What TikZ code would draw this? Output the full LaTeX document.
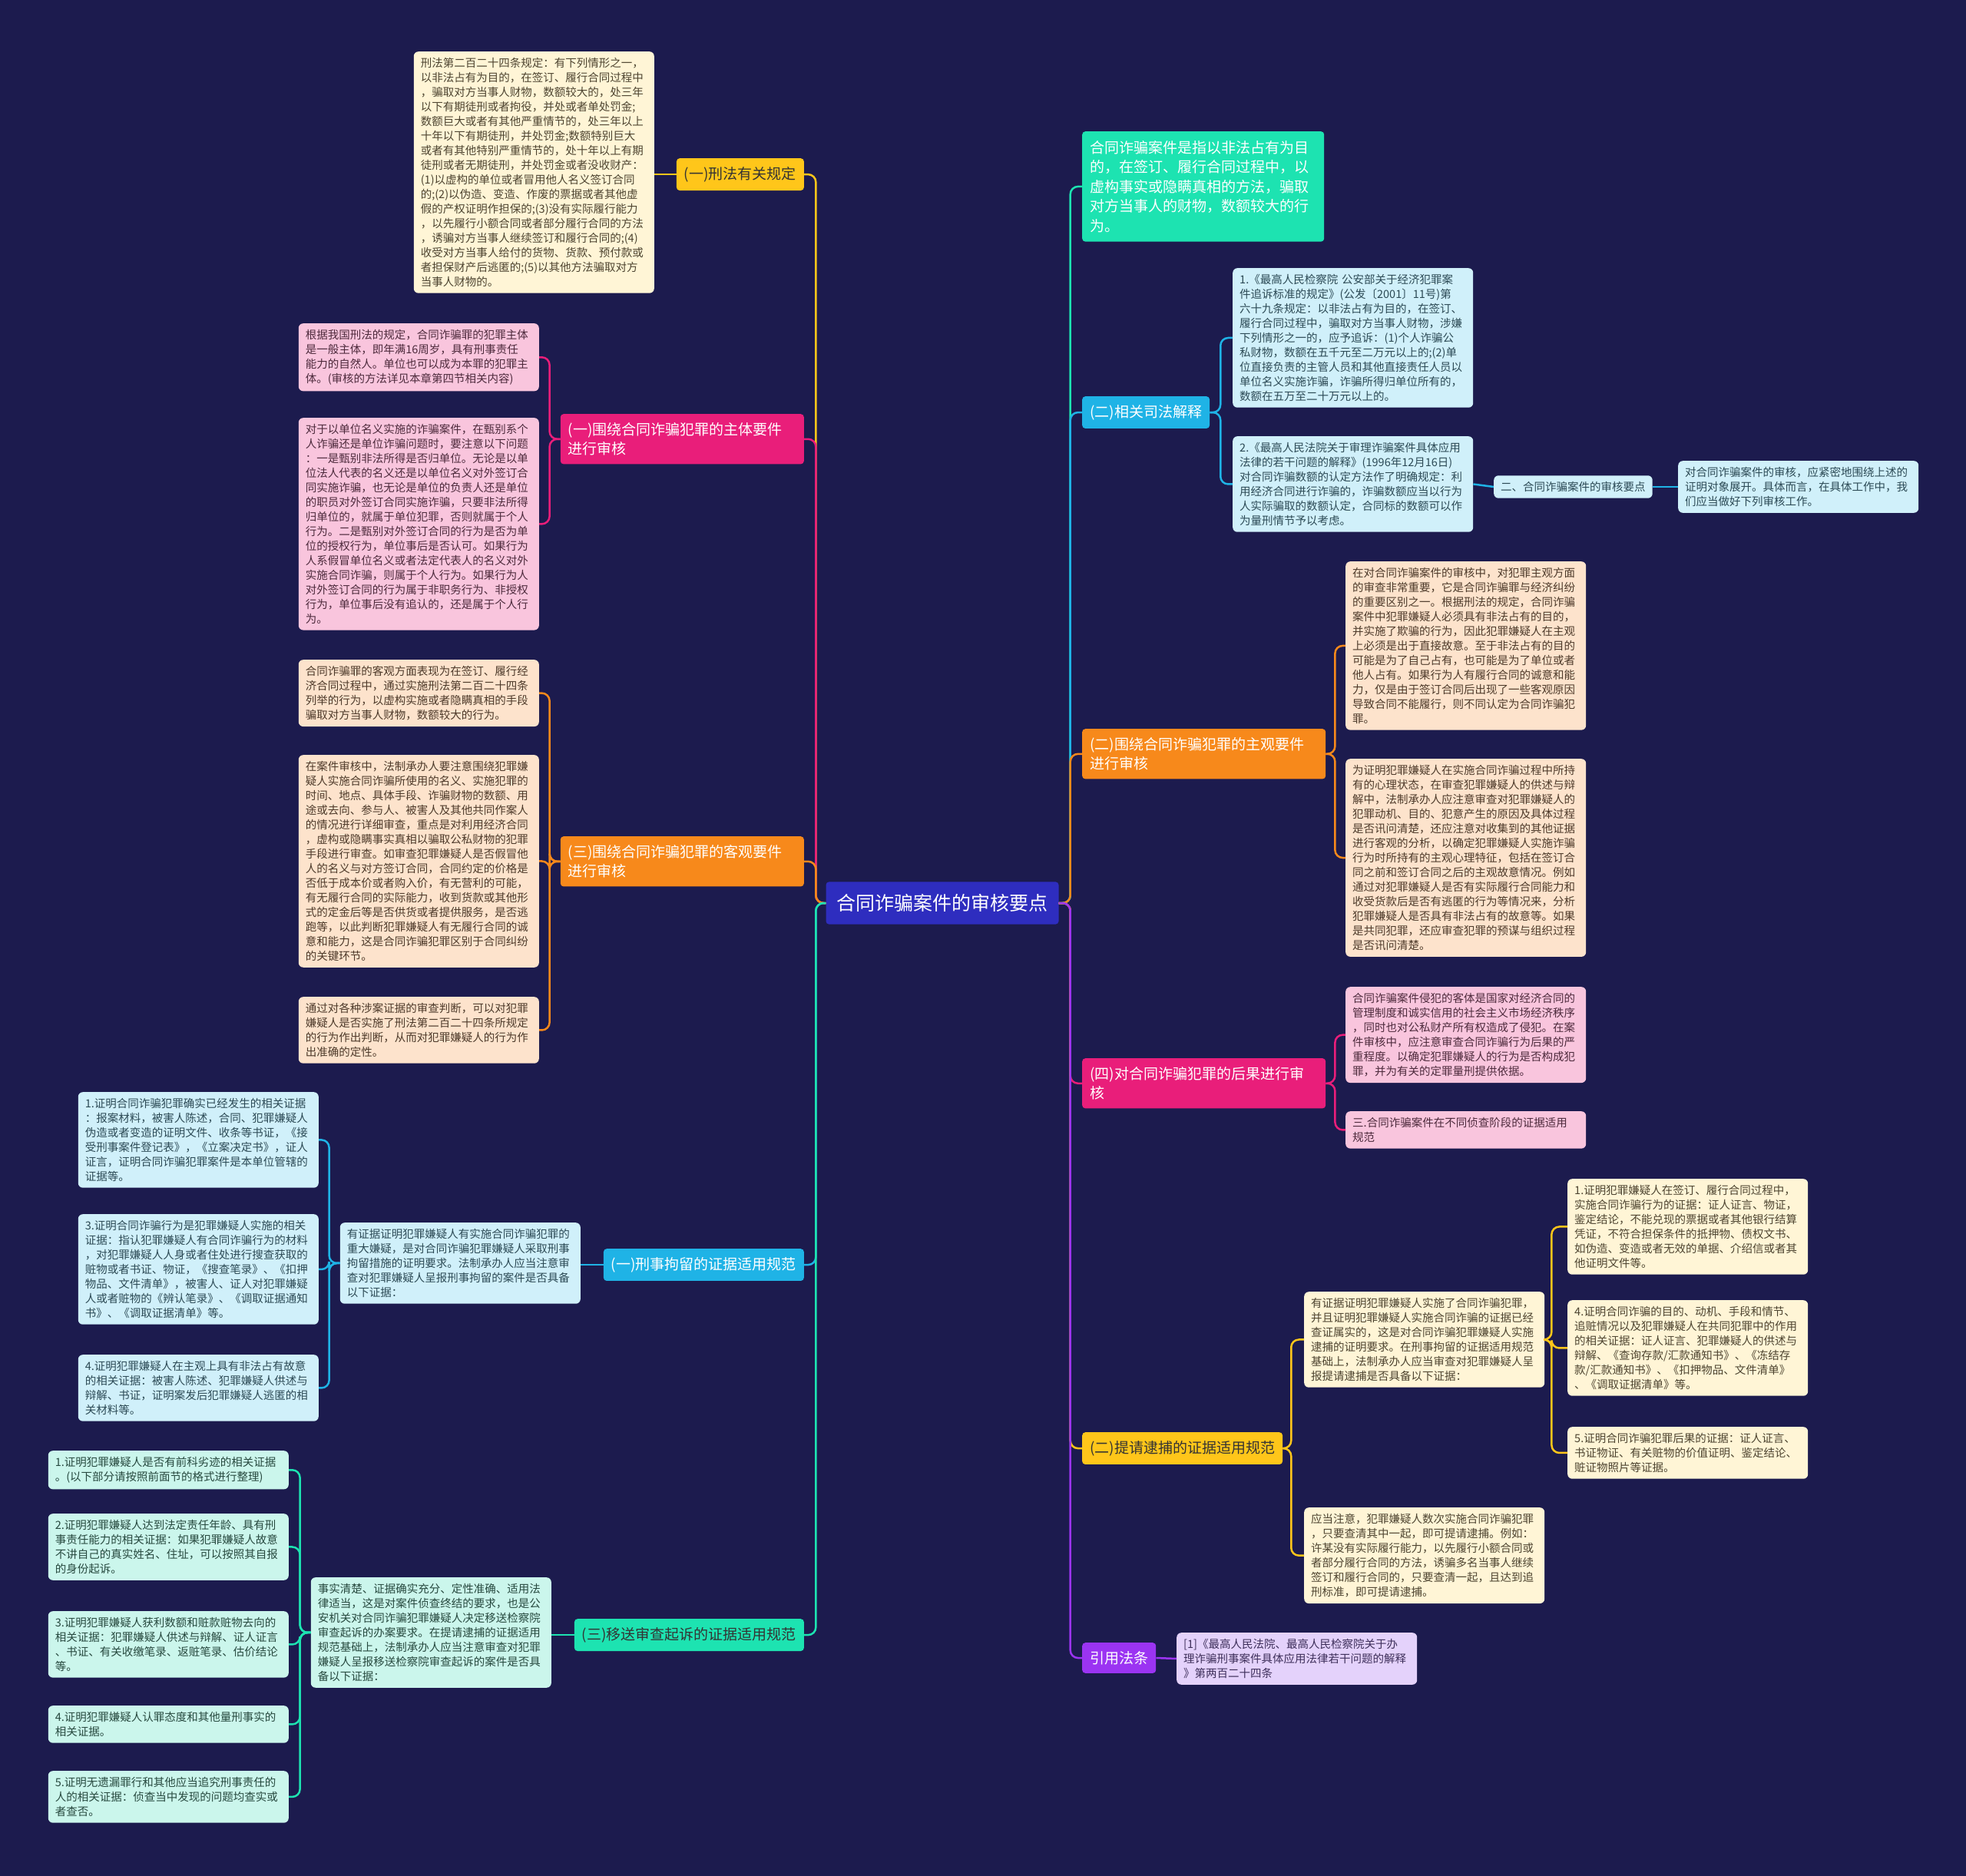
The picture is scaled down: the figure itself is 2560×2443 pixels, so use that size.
\documentclass[tikz,border=0pt]{standalone}
\usepackage{fontspec}
\setmainfont{Noto Sans CJK SC}

\definecolor{cBg}{HTML}{1C1B4E}
\definecolor{cRoot}{HTML}{2E2DBF}
\definecolor{cY}{HTML}{FFC61A}
\definecolor{cP}{HTML}{E91E7A}
\definecolor{cO}{HTML}{F7891B}
\definecolor{cB}{HTML}{1FB3E6}
\definecolor{cG}{HTML}{1DE3B1}
\definecolor{cV}{HTML}{9B34F2}
\definecolor{lY}{HTML}{FFF5D6}
\definecolor{lP}{HTML}{F9C5DD}
\definecolor{lO}{HTML}{FDE3CC}
\definecolor{lB}{HTML}{D0F0FA}
\definecolor{lG}{HTML}{CBF6EC}
\definecolor{lV}{HTML}{E4D2FB}
\definecolor{tY}{HTML}{4D4430}
\definecolor{tP}{HTML}{4D2A3C}
\definecolor{tO}{HTML}{4D3A2A}
\definecolor{tB}{HTML}{2C4A55}
\definecolor{tG}{HTML}{27493F}
\definecolor{tV}{HTML}{3E2F5A}

\tikzset{
  leaf/.style={rounded corners=6pt, align=left, text width=295pt, inner xsep=9pt,
    inner ysep=8pt, font=\fontsize{14.5}{19}\selectfont},
  leafY/.style={leaf, fill=lY, text=tY},
  leafP/.style={leaf, fill=lP, text=tP},
  leafO/.style={leaf, fill=lO, text=tO},
  leafB/.style={leaf, fill=lB, text=tB},
  leafG/.style={leaf, fill=lG, text=tG},
  leafV/.style={leaf, fill=lV, text=tV},
  branch/.style={rounded corners=4pt, align=left, inner xsep=10pt, inner ysep=11pt,
    font=\fontsize{19}{25.5}\selectfont},
  link/.style={draw=#1, line width=2.5pt, rounded corners=10pt},
}

\begin{document}
\begin{tikzpicture}[x=1pt,y=-1pt]
\fill[cBg] (0,0) rectangle (2560,2443);
\useasboundingbox (0,0) rectangle (2560,2443);

% root
\node[fill=cRoot, text=white, rounded corners=4pt, inner xsep=14pt, inner ysep=16pt,
  font=\fontsize{25}{30}\selectfont] (root) at (1227,1176) {合同诈骗案件的审核要点};

% left branches
\node[branch, fill=cY, text=black!80, anchor=north east] (fa) at (1047,206) {(一)刑法有关规定};
\node[branch, fill=cP, text=white, text width=297pt, anchor=north east] (zt) at (1047,539)
  {(一)围绕合同诈骗犯罪的主体要件\\进行审核};
\node[branch, fill=cO, text=white, text width=297pt, anchor=north east] (kg) at (1047,1089)
  {(三)围绕合同诈骗犯罪的客观要件\\进行审核};
\node[branch, fill=cB, text=white, anchor=north east] (jl) at (1047,1626) {(一)刑事拘留的证据适用规范};
\node[branch, fill=cG, text=black!80, anchor=north east] (ys) at (1047,2108) {(三)移送审查起诉的证据适用规范};

% right branches
\node[branch, fill=cG, text=white, text width=295pt, inner ysep=12pt, anchor=north west] (dy) at (1409,171)
  {合同诈骗案件是指以非法占有为目\\的，在签订、履行合同过程中，以\\虚构事实或隐瞒真相的方法，骗取\\对方当事人的财物，数额较大的行\\为。};
\node[branch, fill=cB, text=white, anchor=north west] (sf) at (1409,516) {(二)相关司法解释};
\node[branch, fill=cO, text=white, text width=297pt, anchor=north west] (zg) at (1409,949)
  {(二)围绕合同诈骗犯罪的主观要件\\进行审核};
\node[branch, fill=cP, text=white, text width=297pt, anchor=north west] (hg) at (1409,1378)
  {(四)对合同诈骗犯罪的后果进行审\\核};
\node[branch, fill=cY, text=black!80, anchor=north west] (db) at (1409,1865) {(二)提请逮捕的证据适用规范};
\node[branch, fill=cV, text=white, anchor=north west] (yy) at (1409,2139) {引用法条};

% left leaves
\node[leafY, anchor=north east] (legal) at (852,67)
  {刑法第二百二十四条规定：有下列情形之一，\\以非法占有为目的，在签订、履行合同过程中\\，骗取对方当事人财物，数额较大的，处三年\\以下有期徒刑或者拘役，并处或者单处罚金;\\数额巨大或者有其他严重情节的，处三年以上\\十年以下有期徒刑，并处罚金;数额特别巨大\\或者有其他特别严重情节的，处十年以上有期\\徒刑或者无期徒刑，并处罚金或者没收财产：\\(1)以虚构的单位或者冒用他人名义签订合同\\的;(2)以伪造、变造、作废的票据或者其他虚\\假的产权证明作担保的;(3)没有实际履行能力\\，以先履行小额合同或者部分履行合同的方法\\，诱骗对方当事人继续签订和履行合同的;(4)\\收受对方当事人给付的货物、货款、预付款或\\者担保财产后逃匿的;(5)以其他方法骗取对方\\当事人财物的。};
\node[leafP, anchor=north east] (pk1) at (702,421)
  {根据我国刑法的规定，合同诈骗罪的犯罪主体\\是一般主体，即年满16周岁，具有刑事责任\\能力的自然人。单位也可以成为本罪的犯罪主\\体。(审核的方法详见本章第四节相关内容)};
\node[leafP, anchor=north east] (pk2) at (702,544)
  {对于以单位名义实施的诈骗案件，在甄别系个\\人诈骗还是单位诈骗问题时，要注意以下问题\\：一是甄别非法所得是否归单位。无论是以单\\位法人代表的名义还是以单位名义对外签订合\\同实施诈骗，也无论是单位的负责人还是单位\\的职员对外签订合同实施诈骗，只要非法所得\\归单位的，就属于单位犯罪，否则就属于个人\\行为。二是甄别对外签订合同的行为是否为单\\位的授权行为，单位事后是否认可。如果行为\\人系假冒单位名义或者法定代表人的名义对外\\实施合同诈骗，则属于个人行为。如果行为人\\对外签订合同的行为属于非职务行为、非授权\\行为，单位事后没有追认的，还是属于个人行\\为。};
\node[leafO, anchor=north east] (or1) at (702,859)
  {合同诈骗罪的客观方面表现为在签订、履行经\\济合同过程中，通过实施刑法第二百二十四条\\列举的行为，以虚构实施或者隐瞒真相的手段\\骗取对方当事人财物，数额较大的行为。};
\node[leafO, anchor=north east] (or2) at (702,983)
  {在案件审核中，法制承办人要注意围绕犯罪嫌\\疑人实施合同诈骗所使用的名义、实施犯罪的\\时间、地点、具体手段、诈骗财物的数额、用\\途或去向、参与人、被害人及其他共同作案人\\的情况进行详细审查，重点是对利用经济合同\\，虚构或隐瞒事实真相以骗取公私财物的犯罪\\手段进行审查。如审查犯罪嫌疑人是否假冒他\\人的名义与对方签订合同，合同约定的价格是\\否低于成本价或者购入价，有无营利的可能，\\有无履行合同的实际能力，收到货款或其他形\\式的定金后等是否供货或者提供服务，是否逃\\跑等，以此判断犯罪嫌疑人有无履行合同的诚\\意和能力，这是合同诈骗犯罪区别于合同纠纷\\的关键环节。};
\node[leafO, anchor=north east] (or3) at (702,1298)
  {通过对各种涉案证据的审查判断，可以对犯罪\\嫌疑人是否实施了刑法第二百二十四条所规定\\的行为作出判断，从而对犯罪嫌疑人的行为作\\出准确的定性。};
\node[leafB, anchor=north east] (bl0) at (756,1592)
  {有证据证明犯罪嫌疑人有实施合同诈骗犯罪的\\重大嫌疑，是对合同诈骗犯罪嫌疑人采取刑事\\拘留措施的证明要求。法制承办人应当注意审\\查对犯罪嫌疑人呈报刑事拘留的案件是否具备\\以下证据：};
\node[leafB, anchor=north east] (bl1) at (415,1422)
  {1.证明合同诈骗犯罪确实已经发生的相关证据\\：报案材料，被害人陈述，合同、犯罪嫌疑人\\伪造或者变造的证明文件、收条等书证，《接\\受刑事案件登记表》，《立案决定书》，证人\\证言，证明合同诈骗犯罪案件是本单位管辖的\\证据等。};
\node[leafB, anchor=north east] (bl3) at (415,1581)
  {3.证明合同诈骗行为是犯罪嫌疑人实施的相关\\证据：指认犯罪嫌疑人有合同诈骗行为的材料\\，对犯罪嫌疑人人身或者住处进行搜查获取的\\赃物或者书证、物证，《搜查笔录》、《扣押\\物品、文件清单》，被害人、证人对犯罪嫌疑\\人或者赃物的《辨认笔录》、《调取证据通知\\书》、《调取证据清单》等。};
\node[leafB, anchor=north east] (bl4) at (415,1764)
  {4.证明犯罪嫌疑人在主观上具有非法占有故意\\的相关证据：被害人陈述、犯罪嫌疑人供述与\\辩解、书证，证明案发后犯罪嫌疑人逃匿的相\\关材料等。};
\node[leafG, anchor=north east] (gr0) at (718,2054)
  {事实清楚、证据确实充分、定性准确、适用法\\律适当，这是对案件侦查终结的要求，也是公\\安机关对合同诈骗犯罪嫌疑人决定移送检察院\\审查起诉的办案要求。在提请逮捕的证据适用\\规范基础上，法制承办人应当注意审查对犯罪\\嫌疑人呈报移送检察院审查起诉的案件是否具\\备以下证据：};
\node[leafG, anchor=north east] (gr1) at (376,1889)
  {1.证明犯罪嫌疑人是否有前科劣迹的相关证据\\。(以下部分请按照前面节的格式进行整理)};
\node[leafG, anchor=north east] (gr2) at (376,1971)
  {2.证明犯罪嫌疑人达到法定责任年龄、具有刑\\事责任能力的相关证据：如果犯罪嫌疑人故意\\不讲自己的真实姓名、住址，可以按照其自报\\的身份起诉。};
\node[leafG, anchor=north east] (gr3) at (376,2098)
  {3.证明犯罪嫌疑人获利数额和赃款赃物去向的\\相关证据：犯罪嫌疑人供述与辩解、证人证言\\、书证、有关收缴笔录、返赃笔录、估价结论\\等。};
\node[leafG, anchor=north east] (gr4) at (376,2221)
  {4.证明犯罪嫌疑人认罪态度和其他量刑事实的\\相关证据。};
\node[leafG, anchor=north east] (gr5) at (376,2306)
  {5.证明无遗漏罪行和其他应当追究刑事责任的\\人的相关证据：侦查当中发现的问题均查实或\\者查否。};

% right leaves
\node[leafB, anchor=north west] (rb1) at (1605,349)
  {1.《最高人民检察院 公安部关于经济犯罪案\\件追诉标准的规定》(公发〔2001〕11号)第\\六十九条规定：以非法占有为目的，在签订、\\履行合同过程中，骗取对方当事人财物，涉嫌\\下列情形之一的，应予追诉：(1)个人诈骗公\\私财物，数额在五千元至二万元以上的;(2)单\\位直接负责的主管人员和其他直接责任人员以\\单位名义实施诈骗，诈骗所得归单位所有的，\\数额在五万至二十万元以上的。};
\node[leafB, anchor=north west] (rb2) at (1605,568)
  {2.《最高人民法院关于审理诈骗案件具体应用\\法律的若干问题的解释》(1996年12月16日)\\对合同诈骗数额的认定方法作了明确规定：利\\用经济合同进行诈骗的，诈骗数额应当以行为\\人实际骗取的数额认定，合同标的数额可以作\\为量刑情节予以考虑。};
\node[leafB, text width=, anchor=west] (rbx) at (1945,634) {二、合同诈骗案件的审核要点};
\node[leafB, anchor=west] (rby) at (2185,634)
  {对合同诈骗案件的审核，应紧密地围绕上述的\\证明对象展开。具体而言，在具体工作中，我\\们应当做好下列审核工作。};
\node[leafO, anchor=north west] (ro1) at (1752,731)
  {在对合同诈骗案件的审核中，对犯罪主观方面\\的审查非常重要，它是合同诈骗罪与经济纠纷\\的重要区别之一。根据刑法的规定，合同诈骗\\案件中犯罪嫌疑人必须具有非法占有的目的，\\并实施了欺骗的行为，因此犯罪嫌疑人在主观\\上必须是出于直接故意。至于非法占有的目的\\可能是为了自己占有，也可能是为了单位或者\\他人占有。如果行为人有履行合同的诚意和能\\力，仅是由于签订合同后出现了一些客观原因\\导致合同不能履行，则不同认定为合同诈骗犯\\罪。};
\node[leafO, anchor=north west] (ro2) at (1752,988)
  {为证明犯罪嫌疑人在实施合同诈骗过程中所持\\有的心理状态，在审查犯罪嫌疑人的供述与辩\\解中，法制承办人应注意审查对犯罪嫌疑人的\\犯罪动机、目的、犯意产生的原因及具体过程\\是否讯问清楚，还应注意对收集到的其他证据\\进行客观的分析，以确定犯罪嫌疑人实施诈骗\\行为时所持有的主观心理特征，包括在签订合\\同之前和签订合同之后的主观故意情况。例如\\通过对犯罪嫌疑人是否有实际履行合同能力和\\收受货款后是否有逃匿的行为等情况来，分析\\犯罪嫌疑人是否具有非法占有的故意等。如果\\是共同犯罪，还应审查犯罪的预谋与组织过程\\是否讯问清楚。};
\node[leafP, anchor=north west] (rp1) at (1752,1285)
  {合同诈骗案件侵犯的客体是国家对经济合同的\\管理制度和诚实信用的社会主义市场经济秩序\\，同时也对公私财产所有权造成了侵犯。在案\\件审核中，应注意审查合同诈骗行为后果的严\\重程度。以确定犯罪嫌疑人的行为是否构成犯\\罪，并为有关的定罪量刑提供依据。};
\node[leafP, anchor=north west] (rp2) at (1752,1447)
  {三.合同诈骗案件在不同侦查阶段的证据适用\\规范};
\node[leafY, anchor=north west] (ry1) at (1698,1682)
  {有证据证明犯罪嫌疑人实施了合同诈骗犯罪，\\并且证明犯罪嫌疑人实施合同诈骗的证据已经\\查证属实的，这是对合同诈骗犯罪嫌疑人实施\\逮捕的证明要求。在刑事拘留的证据适用规范\\基础上，法制承办人应当审查对犯罪嫌疑人呈\\报提请逮捕是否具备以下证据：};
\node[leafY, anchor=north west] (ry2) at (1698,1963)
  {应当注意，犯罪嫌疑人数次实施合同诈骗犯罪\\，只要查清其中一起，即可提请逮捕。例如：\\许某没有实际履行能力，以先履行小额合同或\\者部分履行合同的方法，诱骗多名当事人继续\\签订和履行合同的，只要查清一起，且达到追\\刑标准，即可提请逮捕。};
\node[leafY, anchor=north west] (ryy1) at (2041,1535)
  {1.证明犯罪嫌疑人在签订、履行合同过程中，\\实施合同诈骗行为的证据：证人证言、物证，\\鉴定结论，不能兑现的票据或者其他银行结算\\凭证，不符合担保条件的抵押物、债权文书、\\如伪造、变造或者无效的单据、介绍信或者其\\他证明文件等。};
\node[leafY, anchor=north west] (ryy4) at (2041,1693)
  {4.证明合同诈骗的目的、动机、手段和情节、\\追赃情况以及犯罪嫌疑人在共同犯罪中的作用\\的相关证据：证人证言、犯罪嫌疑人的供述与\\辩解、《查询存款/汇款通知书》、《冻结存\\款/汇款通知书》、《扣押物品、文件清单》\\、《调取证据清单》等。};
\node[leafY, anchor=north west] (ryy5) at (2041,1858)
  {5.证明合同诈骗犯罪后果的证据：证人证言、\\书证物证、有关赃物的价值证明、鉴定结论、\\赃证物照片等证据。};
\node[leafV, anchor=north west] (rv1) at (1532,2126)
  {[1]《最高人民法院、最高人民检察院关于办\\理诈骗刑事案件具体应用法律若干问题的解释\\》第两百二十四条};

% links from root
\draw[link=cY] (root.west) -- ++(-13,0) |- (fa.east);
\draw[link=cP] (root.west) -- ++(-13,0) |- (zt.east);
\draw[link=cO] (root.west) -- ++(-13,0) |- (kg.east);
\draw[link=cB] (root.west) -- ++(-13,0) |- (jl.east);
\draw[link=cG] (root.west) -- ++(-13,0) |- (ys.east);
\draw[link=cG] (root.east) -- ++(15,0) |- (dy.west);
\draw[link=cB] (root.east) -- ++(15,0) |- (sf.west);
\draw[link=cO] (root.east) -- ++(15,0) |- (zg.west);
\draw[link=cP] (root.east) -- ++(15,0) |- (hg.west);
\draw[link=cY] (root.east) -- ++(15,0) |- (db.west);
\draw[link=cV] (root.east) -- ++(15,0) |- (yy.west);

% links to leaves
\draw[link=cY] (fa.west) -- (legal.east |- fa.west);
\foreach \n in {pk1,pk2} \draw[link=cP] (zt.west) -- ++(-14,0) |- (\n.east);
\foreach \n in {or1,or2,or3} \draw[link=cO] (kg.west) -- ++(-14,0) |- (\n.east);
\draw[link=cB] (jl.west) -- (bl0.east |- jl.west);
\foreach \n in {bl1,bl3,bl4} \draw[link=cB] (bl0.west) -- ++(-14,0) |- (\n.east);
\draw[link=cG] (ys.west) -- (gr0.east |- ys.west);
\foreach \n in {gr1,gr2,gr3,gr4,gr5} \draw[link=cG] (gr0.west) -- ++(-14,0) |- (\n.east);
\foreach \n in {rb1,rb2} \draw[link=cB] (sf.east) -- ++(14,0) |- (\n.west);
\draw[link=cB] (rb2.east) -- (rbx.west);
\draw[link=cB] (rbx.east) -- (rby.west);
\foreach \n in {ro1,ro2} \draw[link=cO] (zg.east) -- ++(12,0) |- (\n.west);
\foreach \n in {rp1,rp2} \draw[link=cP] (hg.east) -- ++(12,0) |- (\n.west);
\foreach \n in {ry1,ry2} \draw[link=cY] (db.east) -- ++(11,0) |- (\n.west);
\foreach \n in {ryy1,ryy4,ryy5} \draw[link=cY] (ry1.east) -- ++(9,0) |- (\n.west);
\draw[link=cV] (yy.east) -- (rv1.west);
\end{tikzpicture}
\end{document}
